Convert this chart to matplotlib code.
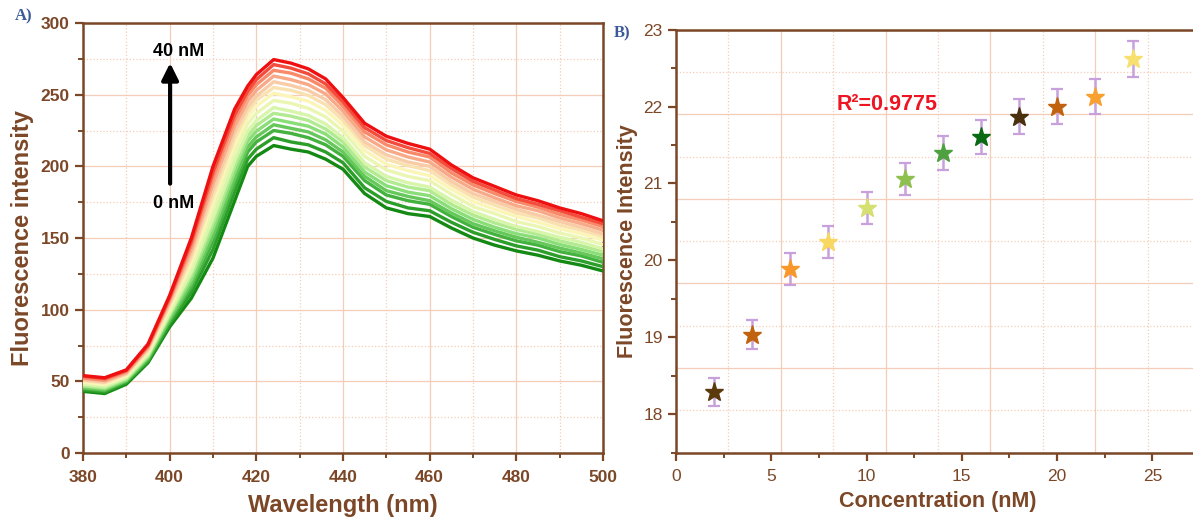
import numpy as np
import matplotlib
matplotlib.use("Agg")
import matplotlib.pyplot as plt
from matplotlib.colors import LinearSegmentedColormap
from matplotlib.ticker import MultipleLocator

plt.rcParams['font.family'] = ['Liberation Sans', 'DejaVu Sans']

brown = '#7b4727'
gridc = '#f4cdb8'

# ---- panel A data: emission spectra, 0 nM (first) -> 40 nM (last)
wavelength = [380, 385, 390, 395, 400, 405, 410, 415, 418, 420, 424, 428, 432, 436,
              440, 445, 450, 455, 460, 465, 470, 475, 480, 485, 490, 495, 500]
spectra = [
    [43, 41.5, 48, 63, 88, 108, 136, 176, 200, 207, 214.5, 212, 210, 205, 198, 181, 171, 167, 165, 157, 150, 145, 141, 138, 134, 131, 127],
    [44, 42.5, 49, 64, 90, 112, 142, 182, 205, 212, 220, 217, 215, 210, 202.5, 185, 175.5, 171, 169, 161, 154, 149, 144.5, 141.5, 137, 134, 130],
    [45, 43.5, 50, 65, 92, 115.5, 147.5, 187.5, 210, 217, 225, 223, 220, 215, 207, 190, 180, 176, 173.5, 165, 157.5, 152.5, 148, 145, 140.5, 137.5, 133],
    [45.5, 44, 50.5, 66, 93, 118, 151.5, 191.5, 213.5, 220.5, 229, 226.5, 224, 218.5, 210, 193, 183, 179, 176, 167.5, 160, 155, 150.5, 147, 143, 139.5, 135.5],
    [46.5, 45, 51, 67, 95, 121, 156, 196, 217.5, 224.5, 233, 230.5, 228, 222.5, 213.5, 196, 186.5, 182, 179.5, 170.5, 163, 157.5, 153, 150, 145.5, 142, 138],
    [47, 45.5, 52, 68, 96.5, 124, 160, 200, 221, 228.5, 237, 235, 232, 226, 217, 199.5, 190, 185.5, 183, 173.5, 166, 160.5, 156, 152.5, 148, 144.5, 140.5],
    [48, 46.5, 52.5, 68.5, 97.5, 126.5, 164, 204, 224.5, 232, 241, 238.5, 235.5, 229.5, 220, 202.5, 193, 188.5, 185.5, 176.5, 168.5, 163, 158, 154.5, 150.5, 147, 142.5],
    [49, 47.5, 53.5, 70, 99.5, 130, 170, 210, 229.5, 237, 246, 244, 240.5, 234.5, 224.5, 207, 197.5, 193, 190, 180.5, 172, 167, 161.5, 158, 153.5, 150, 145.5],
    [49.5, 48, 54, 71, 101.5, 133.5, 175, 215, 234, 242, 251, 248.5, 245.5, 239, 228.5, 211, 201.5, 197, 193.5, 184, 175.5, 170, 165, 161, 156.5, 153, 148.5],
    [50.5, 49, 55, 72, 103, 136.5, 179.5, 219.5, 238, 246, 255, 253, 249.5, 243, 232, 214.5, 205, 200.5, 197, 187, 178.5, 173, 167.5, 164, 159, 155.5, 151],
    [51, 49.5, 55.5, 72.5, 104.5, 139, 183.5, 223.5, 241.5, 249, 259, 256.5, 253, 246.5, 235, 217, 208, 203, 200, 189.5, 181, 175.5, 170, 166, 161.5, 157.5, 153],
    [52, 50.5, 56, 73.5, 106, 142, 188, 228, 245.5, 253, 263, 260.5, 257, 250.5, 238.5, 220.5, 211.5, 206.5, 203, 192.5, 184, 178, 172.5, 169, 164, 160, 155.5],
    [52.5, 51, 57, 74.5, 107.5, 145, 192.5, 232.5, 249.5, 257, 267, 265, 261, 254.5, 242, 224, 215, 210, 206.5, 195.5, 187, 181, 175.5, 171.5, 166.5, 162.5, 158],
    [53.5, 52, 57.5, 75, 108.5, 147.5, 196, 236, 252.5, 260.5, 271, 268.5, 264.5, 257.5, 245, 227, 218, 213, 209, 198.5, 189.5, 183.5, 177.5, 173.5, 169, 164.5, 160],
    [54, 52.5, 58, 76, 110, 150, 200, 240, 256, 264, 274.5, 272, 268, 261, 248, 230, 221, 216, 212, 201, 192, 186, 180, 176, 171, 167, 162],
]

# ---- panel B data
conc = [2, 4, 6, 8, 10, 12, 14, 16, 18, 20, 22, 24]
intensity = [18.29, 19.03, 19.89, 20.24, 20.68, 21.06, 21.40, 21.60, 21.87, 22.00, 22.13, 22.62]
err = [0.18, 0.19, 0.21, 0.21, 0.21, 0.21, 0.22, 0.22, 0.23, 0.225, 0.23, 0.23]
star_colors = ['#5a3a0c', '#c0620e', '#f8982a', '#f8d860', '#d6e070', '#8ec050',
               '#4ea040', '#0a6a14', '#4a300c', '#c0620e', '#f8a030', '#f8e070']

fig = plt.figure(figsize=(11.93, 5.25), dpi=100)


def style_axes(ax, bold):
    for s in ax.spines.values():
        s.set_color(brown)
        s.set_linewidth(1.8)
    ax.tick_params(which='major', direction='out', length=6, width=1.6, color=brown,
                   labelcolor=brown, labelsize=12.5, top=False, right=False)
    ax.tick_params(axis='x', which='major', pad=6)
    ax.tick_params(which='minor', direction='out', length=3.5, width=1.4, color=brown,
                   top=False, right=False)
    for lab in ax.get_xticklabels() + ax.get_yticklabels():
        lab.set_fontweight('bold' if bold else 'normal')


# ================= panel A
axA = fig.add_axes([83 / 1193, 72 / 525, 520 / 1193, 430 / 525])
cmap = LinearSegmentedColormap.from_list('gr', ['#148a14', '#44b240', '#8ade78', '#d8f6aa',
                                                '#fbf6b8', '#f9cca8', '#f88a6a', '#ee1010'])
n = len(spectra)
for i, sp in enumerate(spectra):
    axA.plot(wavelength, sp, color=cmap(i / (n - 1)), lw=2.4, solid_capstyle='round', zorder=3 + i)

axA.set_xlim(380, 500)
axA.set_ylim(0, 300)
axA.xaxis.set_major_locator(MultipleLocator(20))
axA.xaxis.set_minor_locator(MultipleLocator(10))
axA.yaxis.set_major_locator(MultipleLocator(50))
axA.yaxis.set_minor_locator(MultipleLocator(25))
axA.grid(which='major', color=gridc, lw=0.9, ls='-')
axA.grid(which='minor', color=gridc, lw=0.9, ls=':')
axA.set_axisbelow(True)
style_axes(axA, True)
axA.set_xlabel('Wavelength (nm)', fontsize=17, fontweight='bold', color=brown)
axA.xaxis.set_label_coords(0.5, -0.095)
axA.set_ylabel('Fluorescence intensity', fontsize=17, fontweight='bold', color=brown)
axA.yaxis.set_label_coords(-0.094, 0.5)

axA.annotate('', xy=(400.1, 274), xytext=(400.1, 186),
             arrowprops=dict(arrowstyle='-|>,head_width=0.5,head_length=1.0', color='black', lw=3))
axA.text(402, 280, '40 nM', fontsize=13, fontweight='bold', ha='center', va='center', zorder=30)
axA.text(400.8, 174, '0 nM', fontsize=13, fontweight='bold', ha='center', va='center', zorder=30)
fig.text(15 / 1193, 1 - 16 / 525, 'A)', family='Liberation Serif', fontweight='bold',
         color='#3b5998', fontsize=12, va='center')

# ================= panel B
posB = [676 / 1193, 72.5 / 525, 524 / 1193, 422.8 / 525]
# background grid that splits the frame into 5 parts (not aligned with ticks)
gax = fig.add_axes(posB, zorder=0)
gax.set_xlim(0, 5)
gax.set_ylim(0, 5)
gax.xaxis.set_major_locator(MultipleLocator(1))
gax.xaxis.set_minor_locator(MultipleLocator(0.5))
gax.yaxis.set_major_locator(MultipleLocator(1))
gax.yaxis.set_minor_locator(MultipleLocator(0.5))
gax.grid(which='major', color=gridc, lw=0.9, ls='-')
gax.grid(which='minor', color=gridc, lw=0.9, ls=':')
gax.tick_params(which='both', length=0, labelbottom=False, labelleft=False)
for s in gax.spines.values():
    s.set_visible(False)

axB = fig.add_axes(posB, zorder=1)
axB.patch.set_alpha(0)
axB.errorbar(conc, intensity, yerr=err, fmt='none', ecolor='#c8a0dc', elinewidth=1.8,
             capsize=4, capthick=1.6, zorder=2)
for c, v, col in zip(conc, intensity, star_colors):
    axB.plot(c, v, marker='*', ms=14, color=col, mec=col, ls='none', zorder=3)

axB.set_xlim(0, 27.5)
axB.set_ylim(17.5, 23)
axB.xaxis.set_major_locator(MultipleLocator(5))
axB.xaxis.set_minor_locator(MultipleLocator(2.5))
axB.yaxis.set_major_locator(MultipleLocator(1))
axB.yaxis.set_minor_locator(MultipleLocator(0.5))
style_axes(axB, False)
axB.set_xlabel('Concentration (nM)', fontsize=15.5, fontweight='bold', color=brown)
axB.xaxis.set_label_coords(0.5, -0.09)
axB.set_ylabel('Fluorescence Intensity', fontsize=15.5, fontweight='bold', color=brown)
axB.yaxis.set_label_coords(-0.0725, 0.5)
axB.text(11.06, 22.03, 'R²=0.9775', color='#ee1522', fontsize=15.5, fontweight='bold',
         ha='center', va='center')
fig.text(614 / 1193, 1 - 33 / 525, 'B)', family='Liberation Serif', fontweight='bold',
         color='#3b5998', fontsize=12, va='center')

fig.savefig('out.png', dpi=100)
